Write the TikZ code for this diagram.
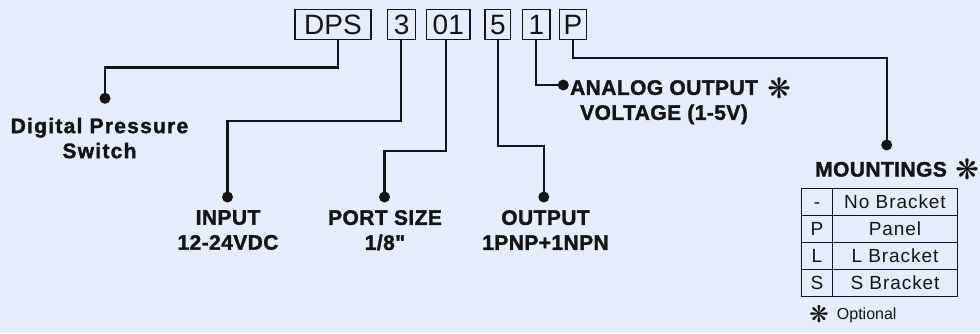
\documentclass[tikz,border=0pt]{standalone}
\usepackage{fontspec}
\setmainfont{Liberation Sans}
\newfontfamily\symfont{DejaVu Sans}
\newfontfamily\heavyfont[Ligatures=TeXOff, FakeBold=1.6, LetterSpace=2]{Liberation Sans Bold}
\newfontfamily\heavywide[Ligatures=TeXOff, FakeBold=1.6, LetterSpace=6]{Liberation Sans Bold}
\newfontfamily\cellfont[LetterSpace=5]{Liberation Sans}
\definecolor{bg}{RGB}{229,237,250}
\definecolor{ink}{RGB}{20,20,20}
\begin{document}
\begin{tikzpicture}[x=1pt,y=-1pt,
  conn/.style={line width=2.1pt, draw=ink},
  codebox/.style={draw=ink, line width=1.5pt, inner sep=0pt, minimum height=30pt, text height=20pt, text depth=0pt, font=\fontsize{28}{28}\selectfont, text=ink},
  dotn/.style={circle, fill=ink, inner sep=0pt, minimum size=11pt},
  lbl/.style={font=\heavyfont\fontsize{21}{25}\selectfont, align=center, anchor=north, inner sep=0pt, text=ink},
  star/.style={font=\symfont\fontsize{28}{28}\selectfont, inner sep=0pt, text=ink},
  cellL/.style={draw=ink, line width=1.5pt, minimum width=30.6pt, minimum height=27pt, inner sep=0pt, text height=13.6pt, text depth=0pt, font=\cellfont\fontsize{19}{19}\selectfont, text=ink},
  cellR/.style={cellL, minimum width=125.4pt}
]
\fill[bg] (0,0) rectangle (980,333);
\useasboundingbox (0,0) rectangle (980,333);

% code boxes
\node[codebox, minimum width=76pt]   (dps) at (333,24.3)   {DPS};
\node[codebox, minimum width=28pt]   (b3)  at (401.7,24.3) {3};
\node[codebox, minimum width=43.3pt] (b01) at (448.3,24.3) {01};
\node[codebox, minimum width=25.7pt] (b5)  at (497.8,24.3) {5};
\node[codebox, minimum width=27.3pt] (b1)  at (536.3,24.3) {1};
\node[codebox, minimum width=27.4pt] (bP)  at (573,24.3)   {P};

% dots
\node[dotn] (dDPS)  at (105,98.3) {};
\node[dotn] (dIn)   at (227.5,197) {};
\node[dotn] (dPort) at (384.5,197) {};
\node[dotn] (dOut)  at (543.8,197) {};
\node[dotn] (dAn)   at (563.3,85) {};
\node[dotn] (dMt)   at (886.7,145) {};

% connectors
\draw[conn] ([xshift=5pt]dps.south) -- ++(0,27.4) -| (dDPS.center);
\draw[conn] ([xshift=-1pt]b3.south) -- ++(0,80.7) -| (dIn.center);
\draw[conn] ([xshift=-2pt]b01.south) -- ++(0,110.7) -| (dPort.center);
\draw[conn] (b5.south) -- ++(0,105.7) -| (dOut.center);
\draw[conn] (b1.south) |- (dAn.center);
\draw[conn] (bP.south) -- ++(0,18) -| (dMt.center);

% labels
\node[lbl, font=\heavywide\fontsize{21}{25}\selectfont] (lDPS) at (99.5,117.7) {Digital Pressure\\Switch};
\node[lbl] (lIn)   at (228,210)    {INPUT\\12-24VDC};
\node[lbl] (lPort) at (385,210)    {PORT SIZE\\1/8"};
\node[lbl] (lOut)  at (545.5,210)  {OUTPUT\\1PNP+1NPN};
\node[lbl] (lAn)   at (664,80)     {ANALOG OUTPUT\\VOLTAGE (1-5V)};
\node[star] (sAn)  at (779,88)     {❋};
\node[lbl] (lMt)   at (881,161.7)  {MOUNTINGS};
\node[star] (sMt)  at (967,169)    {❋};

% table
\node[cellL] (k1) at (817,201.8) {-};
\node[cellR] (v1) at (895,201.8) {No Bracket};
\node[cellL] (k2) at (817,228.8) {P};
\node[cellR] (v2) at (895,228.8) {Panel};
\node[cellL] (k3) at (817,255.8) {L};
\node[cellR] (v3) at (895,255.8) {L Bracket};
\node[cellL] (k4) at (817,282.8) {S};
\node[cellR] (v4) at (895,282.8) {S Bracket};

% legend
\node[star, font=\symfont\fontsize{23}{23}\selectfont] (sOpt) at (819,314) {❋};
\node[anchor=west, inner sep=0pt, text height=11.5pt, text depth=0pt, font=\fontsize{16}{16}\selectfont, text=ink] (opt) at (836.7,314) {Optional};
\end{tikzpicture}
\end{document}
